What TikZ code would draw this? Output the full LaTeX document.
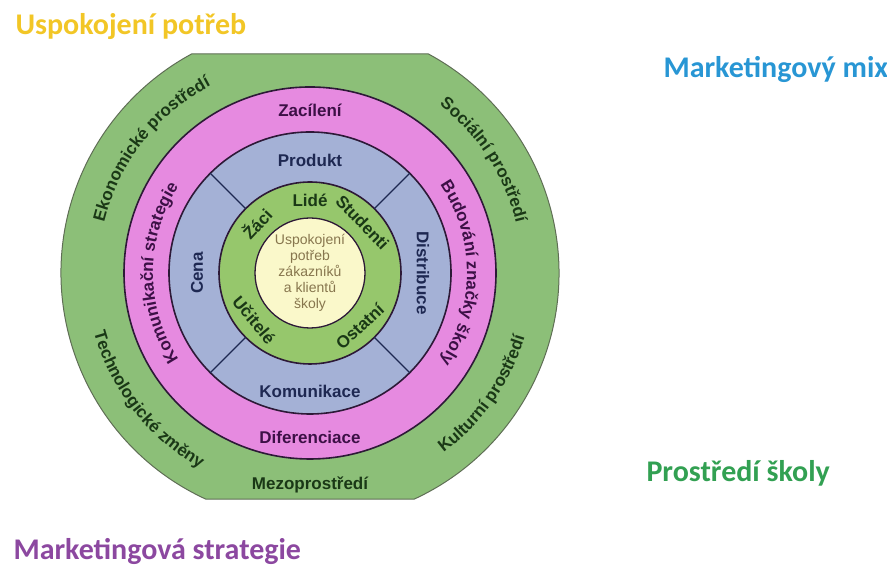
\documentclass[tikz,border=0pt]{standalone}
\usepackage{fontspec}
\setmainfont{Liberation Sans}
\newfontfamily\titlefont{Carlito}
\usetikzlibrary{decorations.text}
\definecolor{outergreen}{RGB}{140,191,120}
\definecolor{pinkring}{RGB}{230,138,224}
\definecolor{bluering}{RGB}{164,177,214}
\definecolor{innergreen}{RGB}{150,199,108}
\definecolor{corefill}{RGB}{250,248,202}
\definecolor{ringline}{RGB}{45,25,55}
\definecolor{outerline}{RGB}{95,110,85}
\definecolor{greentext}{RGB}{26,56,22}
\definecolor{pinktext}{RGB}{60,16,70}
\definecolor{bluetext}{RGB}{30,40,82}
\definecolor{coretext}{RGB}{135,118,78}
\definecolor{titleyellow}{RGB}{242,198,38}
\definecolor{titleblue}{RGB}{40,150,212}
\definecolor{titlegreen}{RGB}{50,160,82}
\definecolor{titlepurple}{RGB}{140,72,160}
\newcommand{\ringfont}{\bfseries\fontsize{17}{19}\selectfont}

\begin{document}
\begin{tikzpicture}[x=1pt, y=1pt, font=\ringfont,
  ring/.style = {draw=ringline, line width=1.6pt},
  onring/.style = {decorate, decoration={text along path, text align=center, text color=#1}},
  title/.style = {anchor=base west, font=\titlefont\bfseries\fontsize{30}{32}\selectfont}]
  \useasboundingbox (0,0) rectangle (887,577);
  \coordinate (c) at (310,304);
  % outer band, cut flat at top and bottom
  \draw[fill=outergreen, draw=outerline, line width=1pt] ([shift={(61.6:249)}]c) arc[start angle=61.6, end angle=-65.2, radius=249]
    -- ([shift={(245.2:249)}]c) arc[start angle=245.2, end angle=118.4, radius=249] -- cycle;
  \filldraw[ring, fill=pinkring] (c) circle (186);
  \filldraw[ring, fill=bluering] (c) circle (141);
  \filldraw[ring, fill=innergreen] (c) circle (91);
  \filldraw[ring, line width=1.3pt, fill=corefill] (c) circle (55);
  \foreach \a in {45,135,225,315}
    \draw[draw=bluetext, line width=1.2pt] ([shift={(\a:91)}]c) -- ([shift={(\a:141)}]c);
  % outer ring
  \path[onring=greentext, decoration={text={|\ringfont|Ekonomické prostředí}}] ([shift={(172:212)}]c) arc[start angle=172, end angle=112, radius=212];
  \path[onring=greentext, decoration={text={|\ringfont|Sociální prostředí}}] ([shift={(63:212)}]c) arc[start angle=63, end angle=3, radius=212];
  \path[onring=greentext, decoration={text={|\ringfont|Kulturní prostředí}}] ([shift={(-65:224)}]c) arc[start angle=-65, end angle=-5, radius=224];
  \path[onring=greentext, decoration={text={|\ringfont|Technologické změny}}] ([shift={(188:224)}]c) arc[start angle=188, end angle=248, radius=224];
  \node[text=greentext] (mezo) at ([shift={(270:212)}]c) {Mezoprostředí};
  % pink ring
  \path[onring=pinktext, decoration={text={|\ringfont|Komunikační strategie}}] ([shift={(225:157)}]c) arc[start angle=225, end angle=135, radius=157];
  \path[onring=pinktext, decoration={text={|\ringfont|Budování značky školy}}] ([shift={(45:157)}]c) arc[start angle=45, end angle=-45, radius=157];
  \node[text=pinktext] (zacileni) at ([shift={(90:163)}]c) {Zacílení};
  \node[text=pinktext] (diferenciace) at ([shift={(270:164)}]c) {Diferenciace};
  % blue ring
  \node[text=bluetext] (produkt) at ([shift={(90:113)}]c) {Produkt};
  \node[text=bluetext] (komunikace) at ([shift={(270:118)}]c) {Komunikace};
  \node[text=bluetext, rotate=90] (cena) at ([shift={(180:113)}]c) {Cena};
  \node[text=bluetext, rotate=-90] (distribuce) at ([shift={(0:113)}]c) {Distribuce};
  % inner green ring
  \node[text=greentext] (lide) at ([shift={(90:73)}]c) {Lidé};
  \node[text=greentext, rotate=47] (zaci) at ([shift={(137:73)}]c) {Žáci};
  \node[text=greentext, rotate=-46] (studenti) at ([shift={(44:73)}]c) {Studenti};
  \node[text=greentext, rotate=-50] (ucitele) at ([shift={(220:73)}]c) {Učitelé};
  \node[text=greentext, rotate=43] (ostatni) at ([shift={(-47:73)}]c) {Ostatní};
  \node[text=coretext, align=center, font=\fontsize{14}{16}\selectfont] (core) at (c) {Uspokojení\\potřeb\\zákazníků\\a klientů\\školy};
  % titles
  \node[title, text=titleyellow] (potreby) at (12,542) {Uspokojení potřeb};
  \node[title, text=titleblue] (mix) at (660,499) {Marketingový mix};
  \node[title, text=titlegreen] (skola) at (643,95) {Prostředí školy};
  \node[title, text=titlepurple] (strategie) at (10,17) {Marketingová strategie};
\end{tikzpicture}
\end{document}
